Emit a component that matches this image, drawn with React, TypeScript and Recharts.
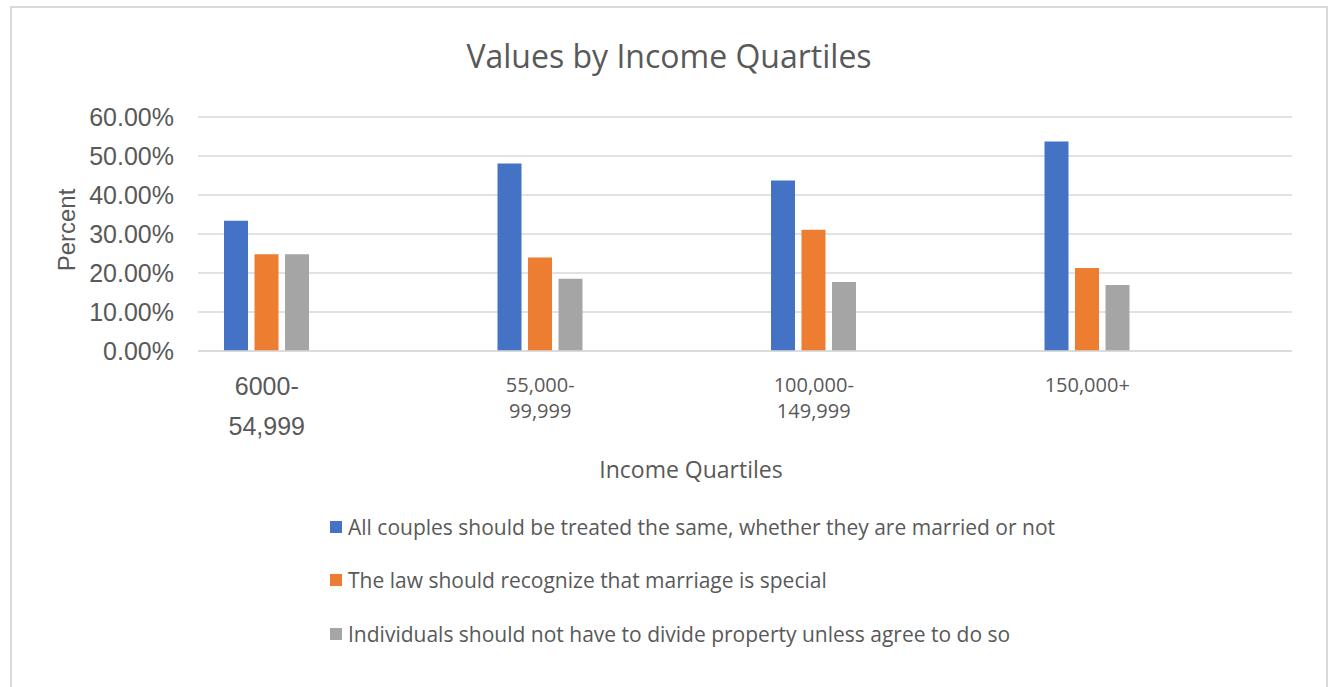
import React from "react";
import {
  BarChart,
  Bar,
  XAxis,
  YAxis,
  CartesianGrid,
} from "recharts";

const categories = ["6000-\n54,999", "55,000-\n99,999", "100,000-\n149,999", "150,000+"];
const sameValues = [33.4, 48.1, 43.7, 53.7];
const specialValues = [24.8, 24.0, 31.1, 21.3];
const propertyValues = [24.8, 18.5, 17.7, 16.9];
const yTicks = [0, 10, 20, 30, 40, 50, 60];

const seriesNames = [
  "All couples should be treated the same, whether they are married or not",
  "The law should recognize that marriage is special",
  "Individuals should not have to divide property unless agree to do so",
];
const seriesColors = ["#4472C4", "#ED7D31", "#A5A5A5"];

const data = categories.map((name, i) => ({
  name,
  same: sameValues[i],
  special: specialValues[i],
  property: propertyValues[i],
}));

const TEXT = "#595959";
const CAL = "'Open Sans', sans-serif";
const ARIAL = "'Liberation Sans', Arial, sans-serif";
// bars sit at the left of each band (Excel leaves room for unused series)
const TICK_SHIFT = -68;

const XTick = (props: any) => {
  const { x, y, payload, index } = props;
  const lines = String(payload.value).split("\n");
  const first = index === 0;
  const size = first ? 25 : 20;
  const lh = first ? 40 : 25.5;
  return (
    <text
      x={x + TICK_SHIFT}
      y={y + (first ? 36 : 33)}
      textAnchor="middle"
      fill={TEXT}
      fontSize={size}
      fontFamily={first ? ARIAL : CAL}
    >
      {lines.map((l, i) => (
        <tspan key={i} x={x + TICK_SHIFT} dy={i === 0 ? 0 : lh}>
          {l}
        </tspan>
      ))}
    </text>
  );
};

const LegendBox = () => (
  <div style={{ fontFamily: CAL, fontSize: 21, color: TEXT }}>
    {seriesNames.map((n, i) => (
      <div key={n} style={{ display: "flex", alignItems: "center", height: 53.5 }}>
        <span
          style={{
            width: 12,
            height: 12,
            background: seriesColors[i],
            marginRight: 6,
            display: "inline-block",
          }}
        />
        <span style={{ whiteSpace: "nowrap" }}>{n}</span>
      </div>
    ))}
  </div>
);

export default function App() {
  return (
    <div style={{ position: "absolute", left: 0, top: 0, width: 1329, height: 687, background: "#fff", overflow: "hidden" }}>
      <div
        style={{
          position: "absolute",
          left: 10,
          top: 6,
          width: 1314,
          height: 720,
          border: "2px solid #d9d9d9",
        }}
      />
      <div
        style={{
          position: "absolute",
          left: 0,
          top: 34,
          width: 1338,
          textAlign: "center",
          fontFamily: CAL,
          fontSize: 32,
          color: TEXT,
        }}
      >
        Values by Income Quartiles
      </div>
      <div style={{ position: "absolute", left: 0, top: 0 }}>
        <BarChart
          width={1329}
          height={687}
          data={data}
          margin={{ top: 117, right: 37, left: 0, bottom: 216 }}
          barGap={6.5}
        >
          <CartesianGrid vertical={false} stroke="#d9d9d9" strokeWidth={1.5} />
          <XAxis
            dataKey="name"
            height={120}
            interval={0}
            tickLine={false}
            axisLine={{ stroke: "#d9d9d9", strokeWidth: 1.5 }}
            tick={<XTick />}
            label={{
              content: ({ viewBox }: any) => (
                <text
                  x={viewBox.x + viewBox.width / 2 - 54}
                  y={viewBox.y + 127}
                  textAnchor="middle"
                  fill={TEXT}
                  fontSize={23}
                  fontFamily={CAL}
                >
                  Income Quartiles
                </text>
              ),
            }}
          />
          <YAxis
            width={198}
            domain={[0, 60]}
            ticks={yTicks}
            interval={0}
            tickLine={false}
            axisLine={false}
            tickSize={0}
            tickMargin={24}
            tickFormatter={(v: number) => `${v.toFixed(2)}%`}
            tick={{ fill: TEXT, fontSize: 25, fontFamily: ARIAL }}
            label={{
              content: ({ viewBox }: any) => {
                const cx = viewBox.x + 66;
                const cy = viewBox.y + viewBox.height / 2 - 4;
                return (
                  <text
                    x={cx}
                    y={cy}
                    transform={`rotate(-90 ${cx} ${cy})`}
                    textAnchor="middle"
                    dominantBaseline="central"
                    fill={TEXT}
                    fontSize={24}
                    fontFamily={ARIAL}
                  >
                    Percent
                  </text>
                );
              },
            }}
          />
          <Bar dataKey="same" name={seriesNames[0]} fill={seriesColors[0]} barSize={24} isAnimationActive={false} />
          <Bar dataKey="special" name={seriesNames[1]} fill={seriesColors[1]} barSize={24} isAnimationActive={false} />
          <Bar dataKey="property" name={seriesNames[2]} fill={seriesColors[2]} barSize={24} isAnimationActive={false} />
          {/* unused series slot: keeps the group left-aligned like the original */}
          <Bar dataKey="unused" legendType="none" fill="none" barSize={130} isAnimationActive={false} />
        </BarChart>
      </div>
      <div style={{ position: "absolute", left: 330, top: 500 }}>
        <LegendBox />
      </div>
    </div>
  );
}
